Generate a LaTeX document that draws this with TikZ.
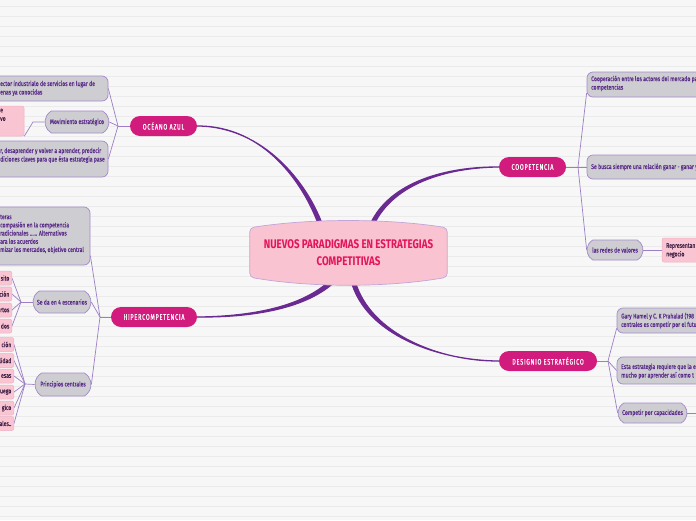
\documentclass[tikz,border=0pt]{standalone}
\usepackage{fontspec}
\setmainfont{Fira Sans}[FakeStretch=0.75,FakeBold=0.35]
\newfontfamily\titlefont{Fira Sans}[FakeStretch=0.78]
\newfontfamily\pillfont{Fira Sans}[FakeStretch=0.7,LetterSpace=9,FakeBold=0.5]
\usetikzlibrary{shapes.misc,calc}
\definecolor{bgc}{HTML}{F7F7F7}
\definecolor{rule}{HTML}{EBEBEB}
\definecolor{mag}{HTML}{D11C7D}
\definecolor{thickc}{HTML}{6A2A92}
\definecolor{thinc}{HTML}{9C7EC6}
\definecolor{grayf}{HTML}{CDCDD2}
\definecolor{grayb}{HTML}{A589C9}
\definecolor{graytxt}{HTML}{5A2A88}
\definecolor{pinkf}{HTML}{F9C5D2}
\definecolor{pinkb}{HTML}{F1AFC3}
\definecolor{pinktxt}{HTML}{3D1F45}
\definecolor{cfill}{HTML}{F9C3D1}
\definecolor{cbord}{HTML}{C2A5D8}
\definecolor{ctxt}{HTML}{E3155B}
\pgfdeclarelayer{back}
\pgfdeclarelayer{conn}
\pgfdeclarelayer{mid}
\pgfsetlayers{back,conn,mid,main}
\begin{document}
\begin{tikzpicture}[x=1pt,y=-1pt,
  pill/.style={rounded rectangle, fill=mag, text=white, inner sep=0,
    minimum height=20, font=\pillfont\fontsize{8}{9}\selectfont},
  graybox/.style={rectangle, rounded corners=6, fill=grayf, draw=grayb, line width=0.7, inner sep=0},
  sgray/.style={rounded rectangle, rounded rectangle arc length=120, fill=grayf, draw=grayb,
    line width=0.7, inner sep=0, text=graytxt, font=\fontsize{6.8}{8.5}\selectfont},
  gtxt/.style={anchor=north west, inner sep=0, align=left, text=graytxt, font=\fontsize{6.8}{8.5}\selectfont},
  pinkbox/.style={rectangle, rounded corners=2, fill=pinkf, draw=pinkb, line width=0.5, inner sep=0},
  ptxt/.style={inner sep=0, align=left, text=pinktxt, font=\fontsize{6.8}{8.5}\selectfont},
  thickfill/.style={fill=thickc, draw=thickc, line width=1.2, line cap=round, line join=round},
  thinline/.style={draw=thinc, line width=0.7}
]
\useasboundingbox (0,0) rectangle (696,520);
\begin{pgfonlayer}{back}
  \fill[bgc] (0,0) rectangle (696,520);
  \foreach \k in {0,...,51} {\draw[rule, line width=0.6] (0,6+10*\k) -- (696,6+10*\k);}
\end{pgfonlayer}

% central node
\node[inner sep=0, minimum width=197, minimum height=56, align=center, text=ctxt,
  font=\titlefont\bfseries\fontsize{12.5}{16.5}\selectfont] (c) at (348.5,252.5)
  {NUEVOS PARADIGMAS EN ESTRATEGIAS\\COMPETITIVAS};
\begin{pgfonlayer}{mid}
  \draw[fill=cfill, draw=cbord, line width=0.7, rounded corners=4]
    ($(c.north west)+(0,3.5)$) .. controls ($(c.north west)+(60,-6)$) and ($(c.north east)+(-60,-6)$) .. ($(c.north east)+(0,3.5)$)
    -- ($(c.south east)+(0,-3.5)$) .. controls ($(c.south east)+(-60,7)$) and ($(c.south west)+(60,7)$) .. ($(c.south west)+(0,-3.5)$)
    -- cycle;
\end{pgfonlayer}

% main branches
\node[pill, minimum width=67] (oa) at (163.5,126) {OCÉANO AZUL};
\node[pill, minimum width=86] (hc) at (154,317) {HIPERCOMPETENCIA};
\node[pill, minimum width=67] (co) at (532.5,167) {COOPETENCIA};
\node[pill, minimum width=98] (de) at (548,361) {DESIGNIO ESTRATÉGICO};

% OCEANO AZUL children
\node[graybox, minimum width=114, minimum height=25] (oa1) at (51,88.5) {};
\node[gtxt] (oa1t) at (0,80.5) {ector industrialo de servicios en lugar de\\enas ya conocidas};
\node[sgray, minimum width=64, minimum height=22] (oa2) at (77,122) {Movimiento estratégico};
\node[pinkbox, minimum width=30, minimum height=30] (oa2p) at (9,121) {};
\node[ptxt, anchor=north west] (oa2pt) at (0,108.5) {e\\vo};
\node[graybox, minimum width=114, minimum height=36] (oa3) at (51,159) {};
\node[gtxt] (oa3t) at (0,147.5) {r, desaprender y volver a aprender, predecir\\diciones claves para que ésta estrategia pase};

% HIPERCOMPETENCIA children
\node[graybox, minimum width=96, minimum height=58] (hc1) at (42,236) {};
\node[gtxt, font=\fontsize{6.8}{8.2}\selectfont] (hc1t) at (0,214.5)
  {teras\\compasión en la competencia\\radicionales ...... Alternativos\\ara los acuerdos\\mizar los mercados, objetivo central};
\node[sgray, minimum width=58, minimum height=22] (hc2) at (62,302) {Se da en 4 escenarios};
\foreach \n/\y/\t in {a/278/sito, b/294/ción, c/310/rtos, d/326/dos} {
  \node[pinkbox, minimum width=20, minimum height=14, anchor=east] (hc2\n) at (12,\y) {};
  \node[ptxt, anchor=east] (hc2\n t) at (9.5,\y) {\t};
}
\node[sgray, minimum width=56, minimum height=23] (hc3) at (63,384.5) {Principios centrales};
\foreach \n/\y/\t in {a/344.5/ción, b/360.5/lidad, c/376/esas, d/392/uego, e/408/gico, f/423.5/ales..} {
  \node[pinkbox, minimum width=22, minimum height=14, anchor=east] (hc3\n) at (14,\y) {};
  \node[ptxt, anchor=east] (hc3\n t) at (11.5,\y) {\t};
}

% COOPETENCIA children
\node[graybox, minimum width=118, minimum height=25] (co1) at (646,84.5) {};
\node[gtxt] (co1t) at (591,75.5) {Cooperación entre los actores del mercado pa\\competencias};
\node[graybox, minimum width=118, minimum height=24] (co2) at (646,167) {};
\node[gtxt, anchor=west] (co2t) at (591,167) {Se busca siempre una relación ganar - ganar y};
\node[sgray, minimum width=56, minimum height=20] (co3) at (615,250) {las redes de valores};
\node[pinkbox, minimum width=43, minimum height=24] (co3p) at (683.5,250) {};
\node[ptxt, anchor=north west] (co3pt) at (666,243) {Representan\\negocio};

% DESIGNIO children
\node[graybox, minimum width=88, minimum height=25] (de1) at (661,320.5) {};
\node[gtxt] (de1t) at (621,312.5) {Gary Hamel y C. K Prahalad (198\\centrales es competir por el futuro};
\node[graybox, minimum width=88, minimum height=27] (de2) at (661,370.5) {};
\node[gtxt] (de2t) at (621,363.5) {Esta estrategia requiere que la e\\mucho por aprender así como t};
\node[sgray, minimum width=69, minimum height=20] (de3) at (652.5,413) {Competir por capacidades};
\coordinate (de3end) at (700,413);

% hubs
\coordinate (oah) at (118,126);
\coordinate (oa2h) at (33,122);
\coordinate (hch) at (100,317);
\coordinate (hc2h) at (21,302);
\coordinate (hc3h) at (25,384);
\coordinate (coh) at (578,167);
\coordinate (deh) at (608,361);

\begin{pgfonlayer}{conn}
  % thick tapered connectors
  \path[thickfill] ($(c.135)+(-2,0)$) .. controls (304,185) and (265,125.5) .. (oa.east)
     .. controls (265,126.5) and (308,185) .. ($(c.135)+(2,0)$) -- cycle;
  \path[thickfill] ($(c.50)+(-2,0)$) .. controls (390,181) and (448,166.5) .. (co.west)
     .. controls (448,167.5) and (394,183) .. ($(c.50)+(2,0)$) -- cycle;
  \path[thickfill] ($(c.-119)+(-1.5,-1.5)$) .. controls (301,309) and (245,316.5) .. (hc.east)
     .. controls (245,317.5) and (303,311) .. ($(c.-119)+(1.5,1.5)$) -- cycle;
  \path[thickfill] ($(c.-81)+(-2,0)$) .. controls (366,336) and (440,360.5) .. (de.west)
     .. controls (440,361.5) and (370,334) .. ($(c.-81)+(2,0)$) -- cycle;
  % thin connectors
  \draw[thinline] (oa.west) -- (oah);
  \draw[thinline] (oah) -- (oa1.east);
  \draw[thinline] (oah) -- (oa2.east);
  \draw[thinline] (oah) -- (oa3.east);
  \draw[thinline] (oa2.west) -- (oa2h) -- (oa2p.south east);
  \draw[thinline] (hc.west) -- (hch);
  \draw[thinline] (hch) -- (hc1.-22);
  \draw[thinline] (hch) -- (hc2.east);
  \draw[thinline] (hch) -- (hc3.east);
  \draw[thinline] (hc2.west) -- (hc2h);
  \foreach \n in {a,b,c,d} {\draw[thinline] (hc2h) -- (hc2\n.east);}
  \draw[thinline] (hc3.west) -- (hc3h);
  \foreach \n in {a,b,c,d,e,f} {\draw[thinline] (hc3h) -- (hc3\n.east);}
  \draw[thinline] (co.east) -- (coh);
  \draw[thinline] (coh) -- (co1.188);
  \draw[thinline] (coh) -- (co2.west);
  \draw[thinline] (coh) -- (co3.west);
  \draw[thinline] (co3.east) -- (co3p.west);
  \draw[thinline] (de.east) -- (deh);
  \draw[thinline] (deh) -- (de1.190);
  \draw[thinline] (deh) -- (de2.west);
  \draw[thinline] (deh) -- (de3.west);
  \draw[thinline] (de3.east) -- (de3end);
\end{pgfonlayer}
\end{tikzpicture}
\end{document}
